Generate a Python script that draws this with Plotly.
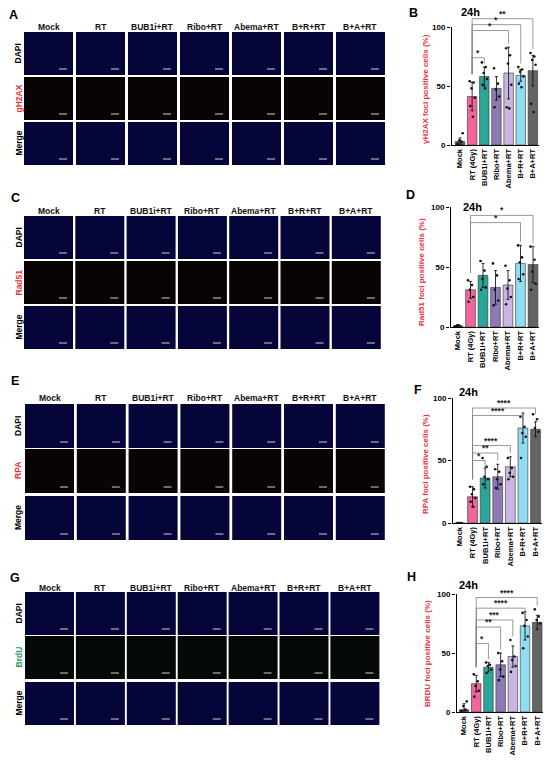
import plotly.graph_objects as go

W, H = 550, 764
FONT = "Arial, Liberation Sans, sans-serif"

# ---- values ----
groups = ["Mock", "RT (4Gy)", "BUB1i+RT", "Ribo+RT", "Abema+RT", "B+R+RT", "B+A+RT"]
image_cols = ["Mock", "RT", "BUB1i+RT", "Ribo+RT", "Abema+RT", "B+R+RT", "B+A+RT"]
bar_colors = ["#5c5c5c", "#f2649c", "#2aa597", "#8d7ab4", "#c9b6e2", "#8fdcf3", "#646464"]

gh2ax_mean = [3, 41, 58, 48, 61, 59, 63]
gh2ax_sd = [3, 12, 8, 10, 22, 5, 13]
gh2ax_pts = [[1, 3, 4, 10], [54, 53, 48, 40, 33, 24], [70, 66, 61, 56, 51, 48],
             [65, 52, 47, 41, 32], [82, 76, 69, 51, 32, 31], [66, 64, 62, 58, 52, 49],
             [78, 75, 72, 68, 35, 28]]
gh2ax_sig_to = [2, 4, 5, 6]
gh2ax_sig = ["*", "*", "*", "**"]

rad51_mean = [1, 31, 43, 33, 35, 53, 52]
rad51_sd = [1, 7, 10, 14, 12, 15, 15]
rad51_pts = [[0.5, 1, 1.5], [39, 35, 31, 25, 21], [55, 47, 40, 33, 31],
             [53, 43, 31, 22, 18], [51, 39, 32, 25, 19], [68, 58, 54, 44, 40],
             [67, 56, 46, 36, 31]]
rad51_sig_to = [5, 6]
rad51_sig = ["*", "*"]

rpa_mean = [0, 21, 36, 37, 45, 76, 75]
rpa_sd = [0, 8, 8, 10, 8, 12, 6]
rpa_pts = [[0, 0, 0], [29, 27, 23, 20, 17, 13], [52, 45, 37, 35, 31],
           [43, 41, 35, 31, 28], [52, 44, 40, 37, 35], [85, 77, 72, 69, 52],
           [87, 83, 76, 73]]
rpa_sig_to = [2, 3, 4, 5, 6]
rpa_sig = ["*", "**", "****", "****", "****"]

brdu_mean = [2, 24, 38, 40, 47, 73, 76]
brdu_sd = [5, 7, 4, 10, 9, 12, 6]
brdu_pts = [[1, 2, 5, 9], [32, 26, 22, 18, 13], [42, 40, 39, 36, 33],
            [50, 43, 36, 30, 27], [61, 47, 44, 39, 34], [84, 78, 73, 64, 54],
            [87, 81, 78, 75]]
brdu_sig_to = [2, 3, 4, 5, 6]
brdu_sig = ["*", "**", "***", "****", "****"]

# ---- layout positions (pixels) ----
# bar charts: axis x, zero line y, px per %, left pad (bars), px per bar, bracket heights
chart_pos = [
    dict(ax=451, zero=145, ppu=1.18, pad=0.74, pitch=12.15, brk=[74, 97, 102, 107]),
    dict(ax=450, zero=327, ppu=1.20, pad=0.64, pitch=12.5, brk=[87, 93]),
    dict(ax=452, zero=523, ppu=1.25, pad=0.63, pitch=12.6, brk=[50, 56, 62, 86, 92]),
    dict(ax=456, zero=712, ppu=1.18, pad=0.66, pitch=12.2, brk=[58, 72, 78, 88, 97]),
]
# microscopy grids: left, column pitch, row tops, panel w/h, header y
grid_pos = [
    dict(left=24, pitch=52.0, tops=[32, 77, 122], w=49, h=43, head=27),
    dict(left=24, pitch=51.3, tops=[216, 261, 306], w=49, h=43, head=211),
    dict(left=25, pitch=51.8, tops=[404, 449, 496], w=49, h=44, head=398),
    dict(left=25, pitch=50.9, tops=[592, 636, 682], w=49, h=43, head=588),
]
letters = [("A", 13, 15), ("B", 413, 13), ("C", 15, 198), ("D", 410, 195),
           ("E", 15, 381), ("F", 418, 390), ("G", 15, 578), ("H", 411, 577)]
h24_pos = [(470, 12), (472, 207), (468, 392), (468, 585)]
ytitle_pos = [(425, 89), (422, 272), (425, 464), (427, 654)]


def px(x):
    return x / W


def py(y):
    return 1 - y / H


def label(x, y, text, size, color="black", angle=0):
    return dict(x=px(x), y=py(y), xref="paper", yref="paper", text=text,
                showarrow=False, xanchor="center", yanchor="middle", textangle=angle,
                font=dict(size=size, color=color, family=FONT, weight="bold"))


charts = [
    dict(mean=gh2ax_mean, sd=gh2ax_sd, pts=gh2ax_pts, to=gh2ax_sig_to, sig=gh2ax_sig,
         title="γH2AX foci positive cells (%)"),
    dict(mean=rad51_mean, sd=rad51_sd, pts=rad51_pts, to=rad51_sig_to, sig=rad51_sig,
         title="Rad51 foci positive cells (%)"),
    dict(mean=rpa_mean, sd=rpa_sd, pts=rpa_pts, to=rpa_sig_to, sig=rpa_sig,
         title="RPA foci positive cells (%)"),
    dict(mean=brdu_mean, sd=brdu_sd, pts=brdu_pts, to=brdu_sig_to, sig=brdu_sig,
         title="BRDU foci positive cells (%)"),
]
grids = [
    dict(rows=["DAPI", "gH2AX", "Merge"], colors=["black", "#e8323a", "black"], foci="#080404"),
    dict(rows=["DAPI", "Rad51", "Merge"], colors=["black", "#e8323a", "black"], foci="#080404"),
    dict(rows=["DAPI", "RPA", "Merge"], colors=["black", "#e8323a", "black"], foci="#080404"),
    dict(rows=["DAPI", "BrdU", "Merge"], colors=["black", "#1f9a5c", "black"], foci="#040806"),
]

jitter = [-0.2, 0.12, -0.05, 0.22, -0.15, 0.06]

fig = go.Figure()
shapes = []
annotations = []
layout_axes = {}

for i, (c, p) in enumerate(zip(charts, chart_pos)):
    s = "" if i == 0 else str(i + 1)
    xa, ya = "x" + s, "y" + s
    top_px = p["zero"] - 112 * p["ppu"]
    right_px = p["ax"] + (p["pad"] + 6.5) * p["pitch"]
    layout_axes["xaxis" + s] = dict(
        domain=[px(p["ax"]), px(right_px)], range=[-p["pad"], 6.5], anchor=ya,
        tickvals=list(range(7)), ticktext=groups, tickangle=-90,
        tickfont=dict(size=7.5, color="black", family=FONT, weight="bold"),
        showline=True, linecolor="black", linewidth=1, ticks="", showgrid=False,
        zeroline=False, automargin=False, fixedrange=True)
    layout_axes["yaxis" + s] = dict(
        domain=[py(p["zero"]), py(top_px)], range=[0, 112], anchor=xa,
        tickvals=[0, 50, 100], ticks="outside", ticklen=3, tickwidth=1, tickcolor="black",
        tickfont=dict(size=8, color="black", family=FONT, weight="bold"),
        showline=False, showgrid=False, zeroline=False, automargin=False, fixedrange=True)

    fig.add_trace(go.Bar(
        x=list(range(7)), y=c["mean"], width=0.78, xaxis=xa, yaxis=ya,
        marker=dict(color=bar_colors, line=dict(color="#333333", width=0.6)),
        error_y=dict(type="data", array=c["sd"], thickness=0.8, width=1.5, color="black"),
        showlegend=False, hoverinfo="skip"))

    dx, dy = [], []
    for k, vals in enumerate(c["pts"]):
        for j, v in enumerate(vals):
            dx.append(k + jitter[j % len(jitter)])
            dy.append(v)
    fig.add_trace(go.Scatter(
        x=dx, y=dy, mode="markers", xaxis=xa, yaxis=ya,
        marker=dict(size=2.6, color="#111111"), showlegend=False, hoverinfo="skip"))

    # y axis line, only from 0 to 100
    fig.add_trace(go.Scatter(
        x=[-p["pad"] + 0.04] * 2, y=[0, 100], mode="lines", xaxis=xa, yaxis=ya,
        line=dict(color="black", width=1), showlegend=False, hoverinfo="skip"))

    # significance brackets from RT
    tops = [max(m + e, max(v)) for m, e, v in zip(c["mean"], c["sd"], c["pts"])]
    bx, by = [], []
    for t, star, h in zip(c["to"], c["sig"], p["brk"]):
        lb = min(h - 5, tops[1] + 6)
        rb = min(h - 5, tops[t] + 3)
        bx += [1, 1, t, t, None]
        by += [lb, h, h, rb, None]
        annotations.append(dict(
            x=(1 + t) / 2, y=h, xref=xa, yref=ya, text=star, showarrow=False,
            xanchor="center", yanchor="bottom", yshift=-2,
            font=dict(size=8.5, color="#222222", family=FONT, weight="bold")))
    fig.add_trace(go.Scatter(
        x=bx, y=by, mode="lines", xaxis=xa, yaxis=ya,
        line=dict(color="#808080", width=0.8), showlegend=False, hoverinfo="skip"))

    hx, hy = h24_pos[i]
    annotations.append(label(hx, hy, "24h", 11))
    tx, ty = ytitle_pos[i]
    annotations.append(label(tx, ty, c["title"], 8, "#e8323a", -90))

# microscopy image grids drawn as dark panels
for g, gp in zip(grids, grid_pos):
    for k, name in enumerate(image_cols):
        x0 = gp["left"] + k * gp["pitch"]
        annotations.append(label(x0 + gp["w"] / 2, gp["head"], name, 8.5, "#111111"))
        for r, top in enumerate(gp["tops"]):
            fill = g["foci"] if r == 1 else "#05053a"
            shapes.append(dict(
                type="rect", xref="paper", yref="paper",
                x0=px(x0), x1=px(x0 + gp["w"]), y0=py(top + gp["h"]), y1=py(top),
                fillcolor=fill, line=dict(width=0), layer="below"))
            shapes.append(dict(
                type="line", xref="paper", yref="paper",
                x0=px(x0 + gp["w"] - 14), x1=px(x0 + gp["w"] - 6),
                y0=py(top + gp["h"] - 6), y1=py(top + gp["h"] - 6),
                line=dict(color="#d0d0d0", width=1)))
    for r, top in enumerate(gp["tops"]):
        annotations.append(label(18, top + gp["h"] / 2, g["rows"][r], 8.5,
                                 g["colors"][r], -90))

for txt, lx, ly in letters:
    annotations.append(label(lx, ly, txt, 12.5))

fig.update_layout(
    width=W, height=H, margin=dict(l=0, r=0, t=0, b=0),
    paper_bgcolor="white", plot_bgcolor="white",
    font=dict(family=FONT), showlegend=False,
    shapes=shapes, annotations=annotations, **layout_axes)

fig.write_html("out.html", config={"displayModeBar": False},
               post_script="document.body.style.margin='0';")
